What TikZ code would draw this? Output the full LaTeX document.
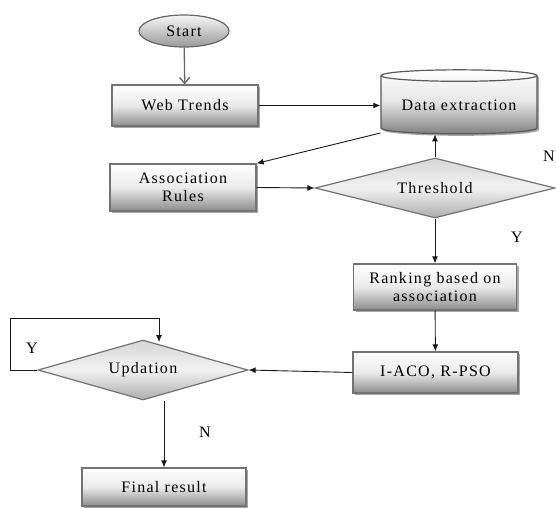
\documentclass[tikz,border=0pt]{standalone}
\usepackage{fontspec}
\newfontfamily\flowfont[LetterSpace=8]{Liberation Serif}
\usetikzlibrary{shapes.geometric,shadows,arrows.meta,calc}
\tikzset{
  flowtext/.style={font=\flowfont\fontsize{16}{18}\selectfont,text=black},
  boxshadow/.style={drop shadow={shadow xshift=2pt,shadow yshift=-2pt,fill=black,opacity=.35}},
  procbox/.style={draw=black!55,line width=1.2pt,rectangle,inner sep=2pt,align=center,
    shading=axis,top color=white,bottom color=black!45,middle color=black!8,boxshadow,flowtext},
  decide/.style={draw=black!55,line width=1.2pt,diamond,inner sep=0pt,
    shading=axis,top color=black!16,bottom color=black!32,middle color=black!5,flowtext},
  termnode/.style={draw=black!60,line width=1.2pt,ellipse,inner sep=0pt,
    shading=axis,top color=black!3,bottom color=black!40,flowtext},
  storenode/.style={draw=black!65,line width=1.2pt,cylinder,shape border rotate=90,aspect=0.1,
    inner sep=0pt,shading=axis,top color=white,bottom color=black!50,middle color=black!10,boxshadow,flowtext},
  flowlabel/.style={flowtext,inner sep=0pt},
  flowline/.style={->,draw=black!90,line width=0.9pt},
}
\begin{document}
\begin{tikzpicture}[x=1pt,y=-1pt,>={Latex[length=7pt,width=6pt]},line join=miter,]
\useasboundingbox (0,0) rectangle (556,508);
%%
  \node (start) at (184,31) [termnode,minimum width=90pt,minimum height=32pt] {Start};
  \node (web) at (185,105.5) [procbox,minimum width=146pt,minimum height=41pt] {Web Trends};
  \node (data) at (459,105) [storenode,minimum width=156pt,minimum height=64pt] {Data extraction};
  \node (assoc) at (183,187.5) [procbox,minimum width=146pt,minimum height=47pt] {Association\\Rules};
  \node (thr) at (435,188) [decide,aspect=4,minimum width=240pt,minimum height=60pt] {Threshold};
  \node (rank) at (435,287) [procbox,minimum width=163pt,minimum height=46pt] {Ranking based on\\association};
  \node (iaco) at (435.5,372.5) [procbox,minimum width=165pt,minimum height=41pt] {I-ACO, R-PSO};
  \node (upd) at (143,370) [decide,aspect=3.5,minimum width=210pt,minimum height=60pt] {Updation};
  \node (final) at (164,487) [procbox,minimum width=164pt,minimum height=38pt] {Final result};
  \coordinate (dataout) at ($(data.west)+(0,28)$);
  \coordinate (loopin) at (159,342);
%%
  \draw [-{Straight Barb[length=6pt,width=10pt]},draw=black!60,line width=1.3pt] (start) -- (web);
  \draw [flowline] (web.east) -- (data.west |- web.east);
  \draw [flowline] (dataout) -- (assoc.north east);
  \draw [flowline] (assoc.east) -- (thr.west);
  \draw [flowline] (thr.north) -- (thr.north |- data.south);
  \draw [flowline] (thr) -- (rank);
  \draw [flowline] (rank) -- (iaco);
  \draw [flowline] (iaco.west) -- (upd.east);
  \draw [flowline] (upd.west) -- ++(-27,0) -- ++(0,-52) -| (loopin);
  \draw [flowline] (upd.south -| final.north) -- (final.north);
%
  \node (thrno) at (549,156) [flowlabel] {N};
  \node (thryes) at (517,237) [flowlabel] {Y};
  \node (updyes) at (32,348) [flowlabel] {Y};
  \node (updno) at (205,432) [flowlabel] {N};
\end{tikzpicture}
\end{document}
